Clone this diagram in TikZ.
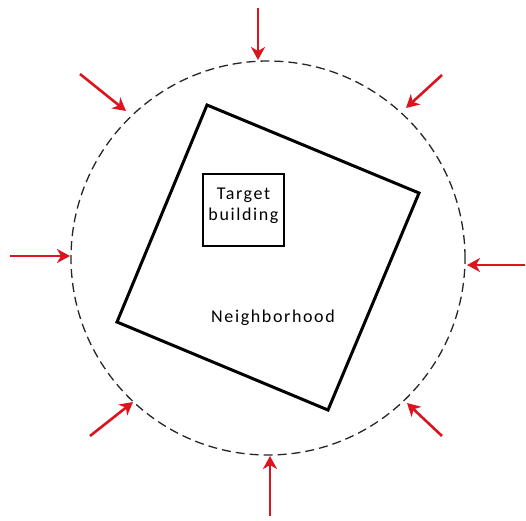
\documentclass[tikz,border=0pt]{standalone}
\usepackage{fontspec}
\setmainfont{Carlito}
\usetikzlibrary{arrows.meta}
\tikzset{
  push/.style={draw={rgb,255:red,220;green,20;blue,30}, line width=2.6pt, -{Stealth[length=13pt,width=14pt,inset=4pt]}},
  hood/.style={draw=black, line width=3pt, line join=miter},
  ring/.style={draw=black!85, line width=1.3pt, dash pattern=on 9pt off 5pt},
  lbl/.style={font=\fontsize{18pt}{21pt}\selectfont\addfontfeature{LetterSpace=9}, align=center, inner sep=0pt}
}
\begin{document}
\begin{tikzpicture}[x=1pt,y=-1pt]
\useasboundingbox (0,0) rectangle (526,520);
\fill[white] (0,0) rectangle (526,520);
% ring
\node[ring, circle, minimum size=394pt, inner sep=0pt] (ring) at (268,258) {};
% neighborhood square
\coordinate (q1) at (207,105);
\coordinate (q2) at (419,193);
\coordinate (q3) at (328,410);
\coordinate (q4) at (117,322);
\draw[hood] (q1) -- (q2) -- (q3) -- (q4) -- cycle;
% target building
\node[draw=black, line width=2.6pt, minimum width=81pt, minimum height=72pt, inner sep=0pt] (tb) at (243.5,210) {};
\node[lbl] (tbt) at (243.5,206) {Target\\building};
\node[lbl] (nh) at (273,318) {Neighborhood};
% arrows
\coordinate (s1) at (258,8);   \coordinate (t1) at (258,60);
\coordinate (s2) at (442,75);  \coordinate (t2) at (406,108);
\coordinate (s3) at (525,265); \coordinate (t3) at (467,265);
\coordinate (s4) at (442,436); \coordinate (t4) at (407,403);
\coordinate (s5) at (270,516); \coordinate (t5) at (270,456);
\coordinate (s6) at (90,436);  \coordinate (t6) at (133,402);
\coordinate (s7) at (10,256);  \coordinate (t7) at (70,256);
\coordinate (s8) at (80,74);   \coordinate (t8) at (126,111);
\foreach \i in {1,...,8} { \draw[push] (s\i) -- (t\i); }
\end{tikzpicture}
\end{document}
